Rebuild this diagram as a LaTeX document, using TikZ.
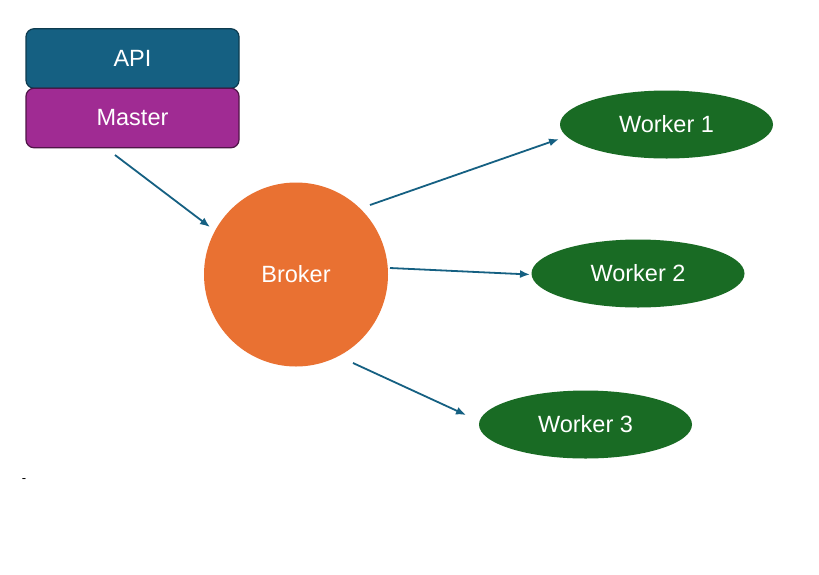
\documentclass[tikz,border=0pt]{standalone}
\usepackage{fontspec}
\setmainfont{Liberation Sans}
\usetikzlibrary{arrows.meta,shapes.geometric}
\definecolor{apiblue}{HTML}{156082}
\definecolor{apiborder}{HTML}{0D3B4F}
\definecolor{masterpurple}{HTML}{A02B93}
\definecolor{masterborder}{HTML}{4F1547}
\definecolor{brokerorange}{HTML}{E97132}
\definecolor{workergreen}{HTML}{196B24}
\definecolor{arrowblue}{HTML}{156082}
\begin{document}
\begin{tikzpicture}[x=1pt,y=-1pt,
  lbl/.style={text=white,font=\fontsize{23.5}{28}\selectfont},
  stackbox/.style={lbl,rectangle,rounded corners=8pt,minimum width=213pt,minimum height=59.5pt,line width=1.2pt,inner sep=0pt},
  brokernode/.style={lbl,circle,fill=brokerorange,minimum size=184pt,inner sep=0pt},
  workernode/.style={lbl,ellipse,fill=workergreen,minimum width=213pt,minimum height=68pt,inner sep=0pt},
  flow/.style={draw=arrowblue,line width=1.8pt,-{Latex[length=10pt,width=8pt]}}
]
\useasboundingbox (0,0) rectangle (819,574);
\fill[white] (0,0) rectangle (819,574);
\node[stackbox,fill=apiblue,draw=apiborder] (api) at (132.5,58.5) {API};
\node[stackbox,fill=masterpurple,draw=masterborder] (master) at (132.5,118) {Master};
\node[brokernode] (broker) at (296,274.5) {Broker};
\node[workernode] (w1) at (666.5,124.5) {Worker 1};
\node[workernode] (w2) at (638,273.5) {Worker 2};
\node[workernode] (w3) at (585.5,424.5) {Worker 3};
\node[font=\fontsize{13}{14}\selectfont,inner sep=0pt] (dash) at (24,481) {-};
\coordinate (a1s) at (115,155);
\coordinate (a1e) at (210,227);
\coordinate (a2s) at (370,205);
\coordinate (a2e) at (559,139);
\coordinate (a3s) at (390,268);
\coordinate (a3e) at (530,274.5);
\coordinate (a4s) at (353,363);
\coordinate (a4e) at (466,415);
\draw[flow] (a1s) -- (a1e);
\draw[flow] (a2s) -- (a2e);
\draw[flow] (a3s) -- (a3e);
\draw[flow] (a4s) -- (a4e);
\end{tikzpicture}
\end{document}
